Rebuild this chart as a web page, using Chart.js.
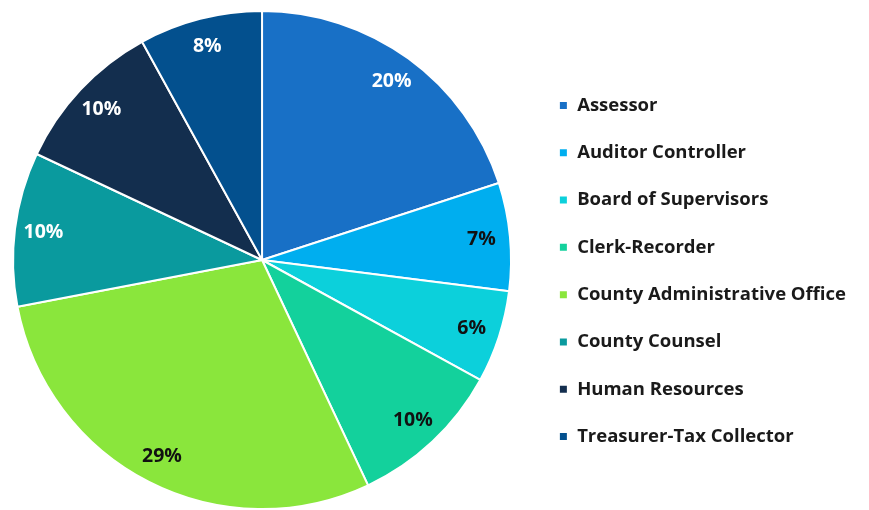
<!DOCTYPE html>
<html>
<head>
<meta charset="utf-8">
<script src="https://cdn.jsdelivr.net/npm/chart.js@4"></script>
<style>
  html, body { margin: 0; padding: 0; background: #ffffff; overflow: hidden; width: 869px; height: 510px; }
  #wrap { width: 875px; height: 510px; margin-left: -6px; }
</style>
</head>
<body>
<div id="wrap"><canvas id="c"></canvas></div>
<script>
const categories = ["Assessor", "Auditor Controller", "Board of Supervisors", "Clerk-Recorder",
  "County Administrative Office", "County Counsel", "Human Resources", "Treasurer-Tax Collector"];
const shares = [20, 7, 6, 10, 29, 10, 10, 8];
const sliceColors = ["#1870C6", "#00AEEF", "#0CD0DB", "#13D19C", "#8AE63C", "#0A9A9E", "#132E4E", "#03508E"];
const labelColors = ["#ffffff", "#111111", "#111111", "#111111", "#111111", "#ffffff", "#ffffff", "#ffffff"];

const pctLabels = {
  id: 'pctLabels',
  afterDatasetsDraw(chart) {
    const ctx = chart.ctx;
    const meta = chart.getDatasetMeta(0);
    ctx.save();
    ctx.font = 'bold 19.5px "Open Sans"';
    ctx.textAlign = 'center';
    ctx.textBaseline = 'middle';
    meta.data.forEach((arc, i) => {
      const p = arc.getProps(['x', 'y', 'startAngle', 'endAngle', 'outerRadius'], true);
      const a = (p.startAngle + p.endAngle) / 2;
      const r = p.outerRadius * 0.885;
      ctx.fillStyle = labelColors[i];
      ctx.fillText(shares[i] + '%', p.x + Math.cos(a) * r, p.y + Math.sin(a) * r);
    });
    ctx.restore();
  }
};

new Chart(document.getElementById('c'), {
  type: 'pie',
  data: {
    labels: categories,
    datasets: [{
      data: shares,
      backgroundColor: sliceColors,
      borderColor: '#ffffff',
      borderWidth: 2,
      hoverOffset: 0
    }]
  },
  options: {
    responsive: true,
    maintainAspectRatio: false,
    animation: false,
    layout: { padding: { top: 10, bottom: 0, left: 0, right: 13 } },
    plugins: {
      tooltip: { enabled: false },
      legend: {
        position: 'right',
        title: { display: true, text: ' ', font: { size: 10 }, padding: 5 },
        labels: {
          boxWidth: 9,
          boxHeight: 9,
          padding: 28.8,
          color: '#1a1a1a',
          font: { family: 'Open Sans', size: 18.5, weight: 'bold' }
        }
      }
    }
  },
  plugins: [pctLabels]
});
</script>
</body>
</html>
